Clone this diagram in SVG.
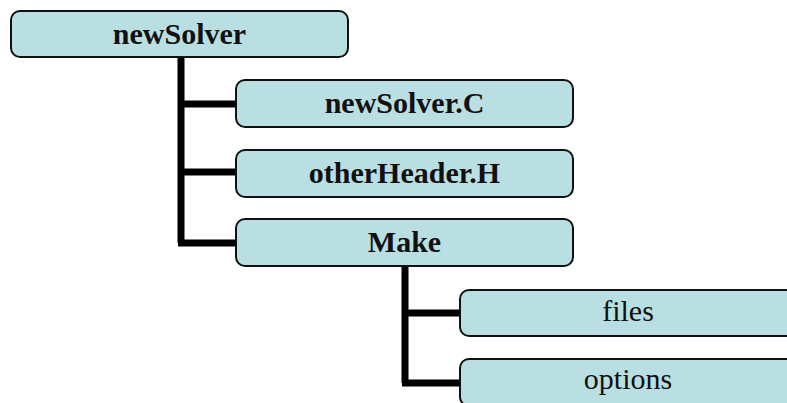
<svg xmlns="http://www.w3.org/2000/svg" width="787" height="403" viewBox="0 0 787 403">
  <style>
    .box { fill: #b9dfe2; stroke: #111; stroke-width: 2; }
    .lbl { font-family: "Liberation Serif", "Times New Roman", serif; font-size: 30px; fill: #111; text-anchor: middle; }
    .b { font-weight: bold; }
    .wire { stroke: #000; stroke-width: 7; fill: none; }
  </style>
  <rect width="787" height="403" fill="#fff"/>

  <!-- tree connectors -->
  <g id="connectors">
    <path class="wire" d="M181 57 V243 M181 104 H236 M181 172 H236 M178 243 H236"/>
    <path class="wire" d="M405 266 V383 M405 313 H460 M402 383 H460"/>
  </g>

  <g id="newSolver">
    <rect class="box" x="11" y="11" width="337" height="46" rx="9"/>
    <text class="lbl b" x="179.5" y="43.5">newSolver</text>
  </g>
  <g id="newSolverC">
    <rect class="box" x="236" y="80" width="337" height="47" rx="9"/>
    <text class="lbl b" x="404.5" y="113">newSolver.C</text>
  </g>
  <g id="otherHeaderH">
    <rect class="box" x="236" y="150" width="337" height="47" rx="9"/>
    <text class="lbl b" x="404.5" y="182.5">otherHeader.H</text>
  </g>
  <g id="make">
    <rect class="box" x="236" y="219" width="337" height="47" rx="9"/>
    <text class="lbl b" x="404.5" y="252">Make</text>
  </g>
  <g id="files">
    <rect class="box" x="460" y="290" width="337" height="46" rx="9"/>
    <text class="lbl" x="628" y="320.5">files</text>
  </g>
  <g id="options">
    <rect class="box" x="460" y="359" width="337" height="47" rx="9"/>
    <text class="lbl" x="628" y="389">options</text>
  </g>
</svg>
